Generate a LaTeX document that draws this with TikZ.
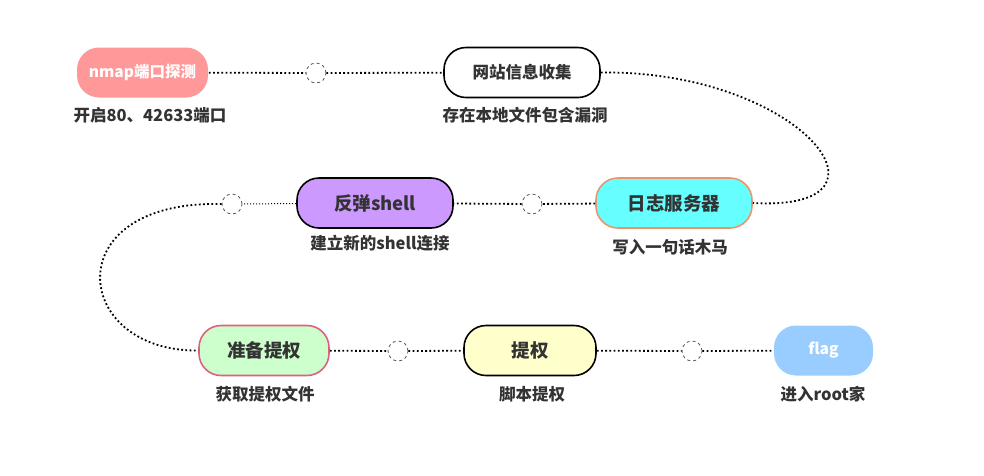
\documentclass[tikz,border=0pt]{standalone}
\usepackage{fontspec}
\setmainfont{Noto Sans CJK SC}
\definecolor{txt}{HTML}{333333}
\definecolor{pinkf}{HTML}{FF9999}
\definecolor{cyanf}{HTML}{66FFFF}
\definecolor{orangeb}{HTML}{E8956D}
\definecolor{purplef}{HTML}{CC99FF}
\definecolor{greenf}{HTML}{CCFFCC}
\definecolor{redb}{HTML}{E06080}
\definecolor{yellowf}{HTML}{FFFFCC}
\definecolor{bluef}{HTML}{99CCFF}
\begin{document}
\begin{tikzpicture}[x=1pt,y=-1pt,
  box/.style={rounded corners=22pt, minimum height=50pt, inner sep=0pt, font=\bfseries, text=txt, line width=1.6pt},
  lbl/.style={font=\bfseries\fontsize{16.5}{19}\selectfont, text=txt, inner sep=0pt},
  hub/.style={circle, draw=black!65, dashed, line width=0.8pt, minimum size=20pt, inner sep=0pt, fill=white},
  link/.style={dash pattern=on 1.8pt off 2.4pt, line width=1.8pt},
  thin link/.style={dotted, line width=1pt}]
\useasboundingbox (0,0) rectangle (984,475);
% nodes
\node[box, fill=pinkf, minimum width=131pt, text=white, font=\bfseries\fontsize{15.5}{18}\selectfont] (n1) at (142.5,72.5) {nmap端口探测};
\node[box, draw=black, fill=white, minimum width=156pt, font=\bfseries\fontsize{16.5}{19}\selectfont] (n2) at (522,72.5) {网站信息收集};
\node[box, draw=orangeb, fill=cyanf, minimum width=156pt, font=\bfseries\fontsize{18.5}{21}\selectfont] (n3) at (674,203) {日志服务器};
\node[box, draw=black, fill=purplef, minimum width=156pt, font=\bfseries\fontsize{18.5}{21}\selectfont] (n4) at (375,203) {反弹shell};
\node[box, draw=redb, fill=greenf, minimum width=130pt, font=\bfseries\fontsize{18.5}{21}\selectfont] (n5) at (264,350.5) {准备提权};
\node[box, draw=black, fill=yellowf, minimum width=132pt, font=\bfseries\fontsize{18.5}{21}\selectfont] (n6) at (530,350.5) {提权};
\node[box, fill=bluef, minimum width=99pt, text=white, font=\bfseries\fontsize{15.5}{18}\selectfont] (n7) at (823.5,350.5) {flag};
% labels
\node[lbl] (l1) at (150,115) {开启80、42633端口};
\node[lbl] (l2) at (525,115) {存在本地文件包含漏洞};
\node[lbl] (l3) at (670,247) {写入一句话木马};
\node[lbl] (l4) at (380,243) {建立新的shell连接};
\node[lbl] (l5) at (265,394) {获取提权文件};
\node[lbl] (l6) at (532,394) {脚本提权};
\node[lbl] (l7) at (823,394) {进入root家};
% hubs
\node[hub] (c1) at (316,73) {};
\node[hub] (c2) at (532,204) {};
\node[hub] (c3) at (232,204) {};
\node[hub] (c4) at (398,351) {};
\node[hub] (c5) at (692,351) {};
% connectors
\draw[link] (n1) -- (c1);
\draw[link] (c1) -- (n2);
\draw[link] (n2.east) .. controls (800,70) and (912,212) .. (n3.east);
\draw[link] (n3) -- (c2);
\draw[link] (c2) -- (n4);
\draw[thin link] (n4) -- (c3);
\draw[link] (c3.west) .. controls (55,200) and (72,352) .. (n5.west);
\draw[link] (n5) -- (c4);
\draw[link] (c4) -- (n6);
\draw[link] (n6) -- (c5);
\draw[link] (c5) -- (n7);
\end{tikzpicture}
\end{document}
